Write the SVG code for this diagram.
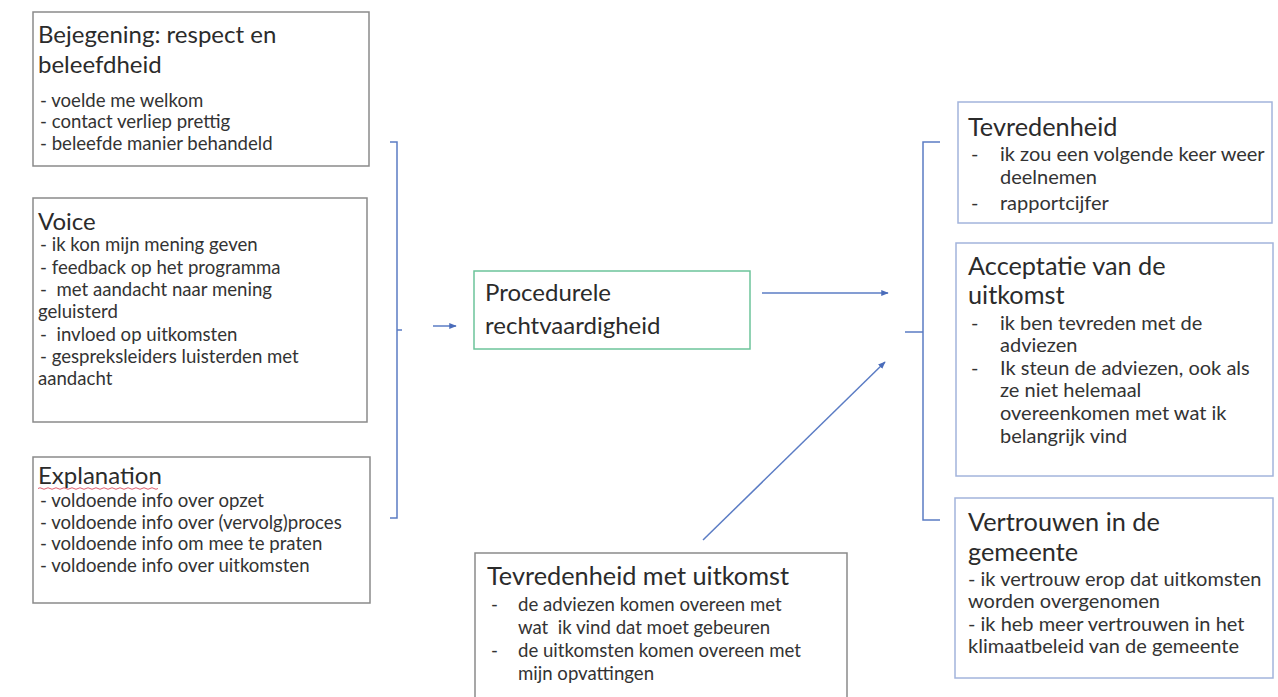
<svg xmlns="http://www.w3.org/2000/svg" width="1278" height="697" viewBox="0 0 1278 697">
<style>
.box{fill:#fff;stroke-width:1.5}
.gray{stroke:#8a8a8a}
.blue{stroke:#a3b4dc}
.green{stroke:#6cc49a}
.h{font-family:Lato,"Liberation Sans",sans-serif;font-size:24px;fill:#2b2b2b}
.hr{font-family:Lato,"Liberation Sans",sans-serif;font-size:25.3px;fill:#2b2b2b}
.b{font-family:Lato,"Liberation Sans",sans-serif;font-size:18.6px;fill:#333}
.br{font-family:Lato,"Liberation Sans",sans-serif;font-size:20px;fill:#333}
.pre{white-space:pre}
.c{stroke:#5b7cc4;stroke-width:1.5;fill:none}
</style>
<defs>
<marker id="ah" viewBox="0 0 10 10" refX="9" refY="5" markerWidth="5" markerHeight="5" orient="auto"><path d="M0,1 L10,5 L0,9 z" fill="#4a6cba"/></marker>
</defs>
<rect width="1278" height="697" fill="#fff"/>
<g id="connectors">
<path class="c" d="M390,142 H397 V518 H390 M397,330 H402"/>
<path class="c" d="M433,326 H456" marker-end="url(#ah)"/>
<path class="c" d="M762,293 H888" marker-end="url(#ah)"/>
<path class="c" d="M703,540 L885,362" marker-end="url(#ah)"/>
<path class="c" d="M940,142 H923 V520 H940 M905,332 H923"/>
</g>
<g id="bejegening">
<rect class="box gray" x="33" y="12" width="336" height="154"/>
<text class="h" x="38" y="43">Bejegening: respect en</text>
<text class="h" x="38" y="73">beleefdheid</text>
<text class="b" x="40" y="107">- voelde me welkom</text>
<text class="b" x="40" y="128">- contact verliep prettig</text>
<text class="b" x="40" y="150">- beleefde manier behandeld</text>
</g>
<g id="voice">
<rect class="box gray" x="33" y="198" width="334" height="224"/>
<text class="h" x="38" y="230">Voice</text>
<text class="b" x="40" y="251">- ik kon mijn mening geven</text>
<text class="b" x="40" y="274">- feedback op het programma</text>
<text class="b pre" x="40" y="296" xml:space="preserve">-  met aandacht naar mening</text>
<text class="b" x="38" y="318">geluisterd</text>
<text class="b pre" x="40" y="341" xml:space="preserve">-  invloed op uitkomsten</text>
<text class="b" x="40" y="363">- gespreksleiders luisterden met</text>
<text class="b" x="38" y="385">aandacht</text>
</g>
<g id="explanation">
<rect class="box gray" x="33" y="457" width="337" height="146"/>
<text class="h" x="38" y="484">Explanation</text>
<path d="M38,488.5 q2,-1.5 4,0 t4,0 t4,0 t4,0 t4,0 t4,0 t4,0 t4,0 t4,0 t4,0 t4,0 t4,0 t4,0 t4,0 t4,0 t4,0 t4,0 t4,0 t4,0 t4,0 t4,0 t4,0 t4,0 t4,0 t4,0 t4,0 t4,0 t4,0 t4,0 t4,0" fill="none" stroke="#e06070" stroke-width="1"/>
<text class="b" x="40" y="507">- voldoende info over opzet</text>
<text class="b" x="40" y="529">- voldoende info over (vervolg)proces</text>
<text class="b" x="40" y="550">- voldoende info om mee te praten</text>
<text class="b" x="40" y="572">- voldoende info over uitkomsten</text>
</g>
<g id="procedurele">
<rect class="box green" x="474" y="271" width="276" height="78"/>
<text class="h" x="485" y="301">Procedurele</text>
<text class="h" x="485" y="334">rechtvaardigheid</text>
</g>
<g id="tevredenheid-uitkomst">
<rect class="box gray" x="475" y="553" width="372" height="160"/>
<text class="hr" x="487" y="585">Tevredenheid met uitkomst</text>
<text class="b" x="491" y="611">-</text>
<text class="b" x="518" y="611">de adviezen komen overeen met</text>
<text class="b pre" x="518" y="634" xml:space="preserve">wat  ik vind dat moet gebeuren</text>
<text class="b" x="491" y="657">-</text>
<text class="b" x="518" y="657">de uitkomsten komen overeen met</text>
<text class="b" x="518" y="680">mijn opvattingen</text>
</g>
<g id="tevredenheid">
<rect class="box blue" x="958" y="102" width="314" height="121"/>
<text class="hr" x="968" y="136">Tevredenheid</text>
<text class="br" x="971" y="161">-</text>
<text class="br" x="1000" y="161">ik zou een volgende keer weer</text>
<text class="br" x="1000" y="184">deelnemen</text>
<text class="br" x="971" y="210">-</text>
<text class="br" x="1000" y="210">rapportcijfer</text>
</g>
<g id="acceptatie">
<rect class="box blue" x="956" y="243" width="317" height="233"/>
<text class="hr" x="968" y="275">Acceptatie van de</text>
<text class="hr" x="968" y="304">uitkomst</text>
<text class="br" x="971" y="330">-</text>
<text class="br" x="1000" y="330">ik ben tevreden met de</text>
<text class="br" x="1000" y="352">adviezen</text>
<text class="br" x="971" y="375">-</text>
<text class="br" x="1000" y="375">Ik steun de adviezen, ook als</text>
<text class="br" x="1000" y="397">ze niet helemaal</text>
<text class="br" x="1000" y="420">overeenkomen met wat ik</text>
<text class="br" x="1000" y="443">belangrijk vind</text>
</g>
<g id="vertrouwen">
<rect class="box blue" x="955" y="498" width="318" height="180"/>
<text class="hr" x="968" y="531">Vertrouwen in de</text>
<text class="hr" x="968" y="561">gemeente</text>
<text class="br" x="968" y="586">- ik vertrouw erop dat uitkomsten</text>
<text class="br" x="968" y="608">worden overgenomen</text>
<text class="br" x="968" y="631">- ik heb meer vertrouwen in het</text>
<text class="br" x="968" y="653">klimaatbeleid van de gemeente</text>
</g>
</svg>
